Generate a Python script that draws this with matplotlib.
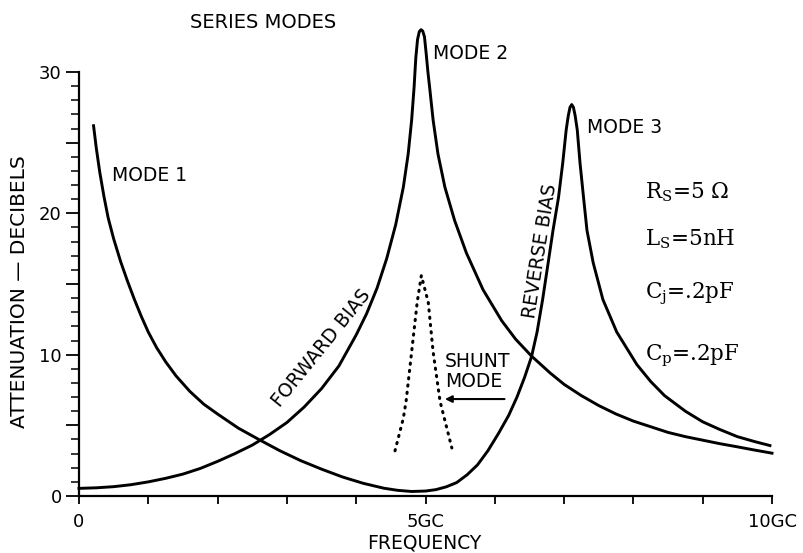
import matplotlib
matplotlib.use('Agg')
import matplotlib.pyplot as plt

# forward bias curve (mode 2)
fwd_x = [0.0, 0.25, 0.5, 0.75, 1.0, 1.25, 1.5, 1.75, 2.0, 2.25, 2.5, 2.75, 3.0, 3.25,
         3.5, 3.75, 4.0, 4.15, 4.3, 4.44, 4.57, 4.68, 4.75, 4.8, 4.835, 4.86, 4.885,
         4.91, 4.935, 4.96, 4.985, 5.01, 5.035, 5.06, 5.11, 5.18, 5.28, 5.42, 5.59,
         5.83, 6.1, 6.3, 6.53, 6.8, 7.0, 7.25, 7.5, 7.75, 8.0, 8.25, 8.5, 8.75, 9.0,
         9.25, 9.5, 9.75, 10.0]
fwd_y = [0.54, 0.58, 0.66, 0.8, 1.0, 1.25, 1.55, 1.95, 2.45, 3.0, 3.6, 4.35, 5.2, 6.3,
         7.6, 9.2, 11.4, 12.9, 14.7, 16.8, 19.2, 21.85, 24.2, 26.6, 28.9, 31.0, 32.3,
         32.85, 33.0, 32.9, 32.5, 31.3, 30.0, 28.9, 26.6, 24.2, 21.85, 19.5, 17.2,
         14.6, 12.4, 11.1, 9.9, 8.7, 7.9, 7.1, 6.4, 5.8, 5.3, 4.9, 4.5, 4.2, 3.95,
         3.7, 3.48, 3.25, 3.03]

# mode 1 falling into the reverse bias curve (mode 3)
rev_x = [0.21, 0.25, 0.3, 0.36, 0.42, 0.5, 0.6, 0.7, 0.8, 0.9, 1.0, 1.12, 1.25, 1.4,
         1.6, 1.8, 2.0, 2.3, 2.61, 2.9, 3.2, 3.5, 3.8, 4.1, 4.4, 4.6, 4.8, 5.0, 5.15,
         5.3, 5.45, 5.6, 5.75, 5.9, 6.05, 6.2, 6.32, 6.43, 6.53, 6.61, 6.69, 6.77,
         6.84, 6.92, 6.98, 7.03, 7.06, 7.085, 7.11, 7.135, 7.16, 7.19, 7.23, 7.28,
         7.33, 7.42, 7.56, 7.76, 8.05, 8.25, 8.45, 8.75, 9.0, 9.25, 9.5, 9.75, 9.97]
rev_y = [26.2, 24.6, 22.9, 21.2, 19.7, 18.2, 16.6, 15.2, 13.9, 12.7, 11.6, 10.5, 9.5,
         8.5, 7.4, 6.5, 5.8, 4.8, 3.96, 3.2, 2.5, 1.9, 1.35, 0.9, 0.55, 0.4, 0.32,
         0.35, 0.45, 0.65, 0.95, 1.5, 2.2, 3.2, 4.4, 5.7, 7.0, 8.4, 9.86, 11.6, 13.9,
         16.5, 18.8, 21.15, 23.55, 25.9, 26.9, 27.5, 27.7, 27.5, 26.9, 25.9, 23.55,
         21.15, 18.8, 16.5, 13.9, 11.6, 9.3, 8.1, 7.1, 6.0, 5.25, 4.7, 4.2, 3.85, 3.57]

# dotted shunt mode
shunt_x = [4.56, 4.68, 4.72, 4.8, 4.88, 4.94, 5.04, 5.11, 5.21, 5.38]
shunt_y = [3.2, 5.5, 6.7, 10.2, 13.7, 15.6, 13.7, 10.2, 6.7, 3.4]

x_ticks = list(range(0, 11))
x_labels = ['0', '', '', '', '', '5GC', '', '', '', '', '10GC']
y_major = [0, 5, 10, 15, 20, 25, 30]
y_labels = ['0', '', '10', '', '20', '', '30']
y_minor = list(range(0, 31))

params = [r'$\mathregular{R_S}$=5 Ω', r'$\mathregular{L_S}$=5nH',
          r'$\mathregular{C_j}$=.2pF', r'$\mathregular{C_p}$=.2pF']
param_y = [21.07, 17.75, 14.0, 9.62]

plt.rcParams['font.family'] = 'DejaVu Sans'
plt.rcParams['mathtext.default'] = 'regular'

fig = plt.figure(figsize=(8.04, 5.53), dpi=100)
ax = fig.add_axes([79 / 804, 57 / 553, 693 / 804, 472 / 553])
ax.set_xlim(0, 10)
ax.set_ylim(0, 33.4)

ax.plot(fwd_x, fwd_y, color='black', lw=2.1, solid_joinstyle='round', clip_on=False)
ax.plot(rev_x, rev_y, color='black', lw=2.1, solid_joinstyle='round', clip_on=False)
ax.plot(shunt_x, shunt_y, color='black', lw=2.2, linestyle=(0, (0.4, 2.0)),
        dash_capstyle='round', clip_on=False)

for s in ['top', 'right']:
    ax.spines[s].set_visible(False)
ax.spines['left'].set_bounds(0, 30)
ax.spines['bottom'].set_bounds(0, 10)
ax.spines['left'].set_linewidth(1.6)
ax.spines['bottom'].set_linewidth(1.6)

ax.set_xticks(x_ticks, x_labels)
ax.set_yticks(y_major, y_labels)
ax.set_yticks(y_minor, minor=True)
ax.tick_params(axis='x', direction='out', length=6, width=1.3, pad=6, labelsize=13)
ax.tick_params(axis='y', which='major', direction='out', length=9.5, width=1.3, pad=3, labelsize=13)
ax.tick_params(axis='y', which='minor', direction='out', length=5.5, width=1.1)

ax.text(2.66, 33.5, 'SERIES MODES', fontsize=14, ha='center', va='center')
ax.text(0.48, 22.7, 'MODE 1', fontsize=13.5, ha='left', va='center')
ax.text(5.11, 31.3, 'MODE 2', fontsize=13.5, ha='left', va='center')
ax.text(7.33, 26.1, 'MODE 3', fontsize=13.5, ha='left', va='center')
ax.text(3.50, 10.45, 'FORWARD BIAS', fontsize=13.5, ha='center', va='center',
        rotation=51, rotation_mode='anchor')
ax.text(6.66, 17.34, 'REVERSE BIAS', fontsize=13.5, ha='center', va='center',
        rotation=81, rotation_mode='anchor')
ax.text(5.28, 8.8, 'SHUNT\nMODE', fontsize=13.5, ha='left', va='center', linespacing=1.05)
ax.annotate('', xy=(5.24, 6.86), xytext=(6.18, 6.86),
            arrowprops=dict(arrowstyle='-|>', lw=1.5, color='black', mutation_scale=10))

for label, yy in zip(params, param_y):
    ax.text(8.17, yy, label, fontsize=15.5, family='DejaVu Serif', ha='left', va='baseline')

fig.text(20 / 804, 1 - 292 / 553, 'ATTENUATION — DECIBELS', rotation=90, fontsize=14.5,
         ha='center', va='center')
fig.text(424 / 804, 1 - 543 / 553, 'FREQUENCY', fontsize=13.5, ha='center', va='center')

fig.savefig('out.png', dpi=100)
